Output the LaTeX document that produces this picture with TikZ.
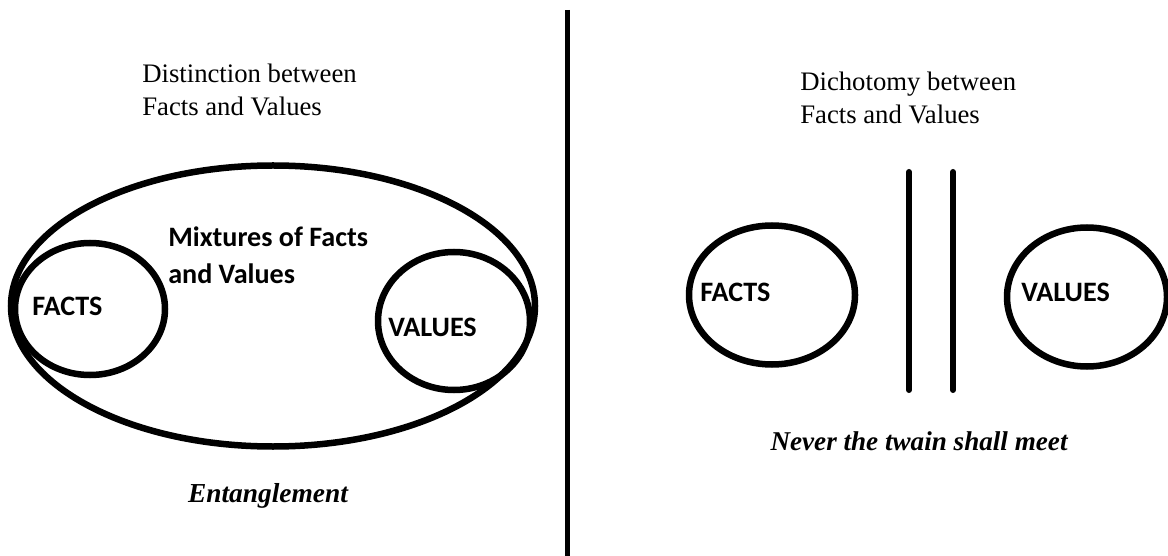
\documentclass[tikz,border=0pt]{standalone}
\usepackage{fontspec}
\usepackage{tikz}
\usetikzlibrary{shapes.geometric,positioning}
\newfontfamily\ttlfont{Liberation Serif}
\newfontfamily\lblfont{Carlito}
\newfontfamily\scrfont{Liberation Serif}
\newlength\pxu
\setlength\pxu{0.025cm}
\tikzset{
  bubble/.style={draw,ellipse,line width=6.5\pxu,inner sep=0pt,minimum width=#1},
  bubble/.default=150\pxu,
  ttltext/.style={anchor=north west,inner sep=0pt,align=left,font=\ttlfont\fontsize{19}{23}\selectfont},
  lbltext/.style={anchor=west,inner sep=0pt,align=left,font=\lblfont\bfseries\fontsize{20}{26.5}\selectfont},
  scrtext/.style={anchor=base,inner sep=0pt,font=\scrfont\bfseries\itshape\fontsize{19.5}{22}\selectfont},
  wall/.style={line width=6\pxu,line cap=round}
}

\begin{document}
\begin{tikzpicture}[x=1\pxu,y=-1\pxu]
 \useasboundingbox (0,0) rectangle (1168,556);
 % divider
 \coordinate (divtop) at (567,10);
 \coordinate (divbot) at (567,556);
 \draw[line width=5\pxu] (divtop) -- (divbot);

 % left half: distinction
 \node[ttltext] (disttitle) at (142,64) {Distinction between\\Facts and Values};
 \node[bubble=524\pxu,minimum height=281\pxu] (mix) at (273,306) {};
 \node[bubble=150\pxu,minimum height=132\pxu] (lfacts) at (90,309) {};
 \node[bubble=152\pxu,minimum height=138\pxu] (lvalues) at (454,321) {};
 \node[lbltext,anchor=north west] (mixtext) at (168,226) {Mixtures of Facts\\and Values};
 \node[lbltext] (lfactstext) at (32,306) {FACTS};
 \node[lbltext] (lvaluestext) at (388,327) {VALUES};
 \node[scrtext] (entangle) at (268,502) {Entanglement};

 % right half: dichotomy
 \node[ttltext] (dichtitle) at (800,72) {Dichotomy between\\Facts and Values};
 \node[bubble=166\pxu,minimum height=139\pxu] (rfacts) at (772,295) {};
 \node[bubble=160\pxu,minimum height=139\pxu] (rvalues) at (1087,297) {};
 \node[lbltext] (rfactstext) at (700,292) {FACTS};
 \node[lbltext] (rvaluestext) at (1021,292) {VALUES};
 \coordinate (walla) at (909,172);
 \coordinate (wallb) at (953,172);
 \draw[wall] (walla) -- ++(0,218);
 \draw[wall] (wallb) -- ++(0,218);
 \node[scrtext,font=\scrfont\bfseries\itshape\fontsize{19.3}{22}\selectfont] (twain) at (919,450) {Never the twain shall meet};
\end{tikzpicture}
\end{document}
